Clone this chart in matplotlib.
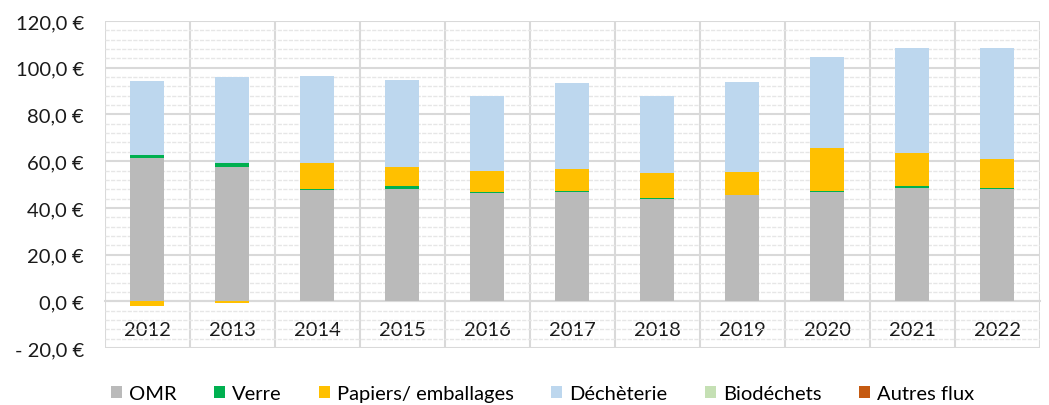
import numpy as np
import matplotlib
matplotlib.use("Agg")
import matplotlib.pyplot as plt
from matplotlib.ticker import MultipleLocator, FuncFormatter

# Données (en € par habitant)
annees = ["2012", "2013", "2014", "2015", "2016", "2017", "2018", "2019", "2020", "2021", "2022"]
omr = [61.5, 57.7, 47.8, 48.2, 46.2, 46.6, 43.8, 45.7, 46.6, 48.7, 47.9]
verre = [1.3, 1.7, 0.5, 1.0, 0.5, 0.5, 0.5, 0.0, 0.5, 0.5, 0.8]
papiers = [-1.8, -0.8, 11.0, 8.1, 9.0, 9.6, 10.7, 9.6, 18.4, 14.4, 12.3]
decheterie = [31.6, 36.8, 37.3, 37.5, 32.2, 36.9, 33.0, 38.6, 38.9, 45.0, 47.3]
biodechets = [0] * 11
autres = [0] * 11

series = [
    ("OMR", omr, "#bababa"),
    ("Verre", verre, "#00b050"),
    ("Papiers/ emballages", papiers, "#ffc000"),
    ("Déchèterie", decheterie, "#bdd7ee"),
    ("Biodéchets", biodechets, "#c5e0b4"),
    ("Autres flux", autres, "#c55a11"),
]

plt.rcParams['font.family'] = ['Lato', 'DejaVu Sans']

fig = plt.figure(figsize=(10.49, 4.06), dpi=100)
ax = fig.add_axes([0.100, 0.140, 0.891, 0.806])

x = np.arange(len(annees))
pos = np.zeros(len(annees))
neg = np.zeros(len(annees))
for nom, vals, col in series:
    v = np.array(vals, dtype=float)
    bas = np.where(v >= 0, pos, neg)
    ax.bar(x, v, 0.4, bottom=bas, color=col, label=nom, zorder=3)
    pos = pos + np.where(v >= 0, v, 0)
    neg = neg + np.where(v < 0, v, 0)

ax.set_xlim(-0.5, len(annees) - 0.5)
ax.set_ylim(-20, 120)

# grilles
ax.yaxis.set_major_locator(MultipleLocator(20))
ax.yaxis.set_minor_locator(MultipleLocator(4))
ax.grid(axis="y", which="major", color="#d9d9d9", lw=1.5, zorder=0)
ax.grid(axis="y", which="minor", color="#e6e6e6", lw=1.0, ls=(0, (3, 1)), zorder=0)
for b in np.arange(-0.5, len(annees), 1):
    ax.axvline(b, color="#d9d9d9", lw=1.5, zorder=1)

def fmt(v, p):
    s = f"{abs(v):.1f}".replace(".", ",") + " €"
    return "- " + s if v < 0 else s
ax.yaxis.set_major_formatter(FuncFormatter(fmt))

ax.set_xticks(x)
ax.set_xticklabels(annees)
ax.spines["bottom"].set_position(("data", 0))
ax.spines["bottom"].set_color("#d9d9d9")
ax.spines["bottom"].set_linewidth(1.5)
for s in ["top", "right", "left"]:
    ax.spines[s].set_visible(False)
ax.tick_params(axis="both", which="both", length=0, labelsize=14.5, colors="#1a1a1a")
ax.tick_params(axis="x", pad=14)
ax.tick_params(axis="y", pad=15)

fig.legend(loc="center", bbox_to_anchor=(0.517, 0.028), ncol=6, frameon=False,
           fontsize=14.5, handlelength=0.55, handleheight=0.55, handletextpad=0.35,
           columnspacing=1.85, borderpad=0)

fig.savefig("out.png", dpi=100)
